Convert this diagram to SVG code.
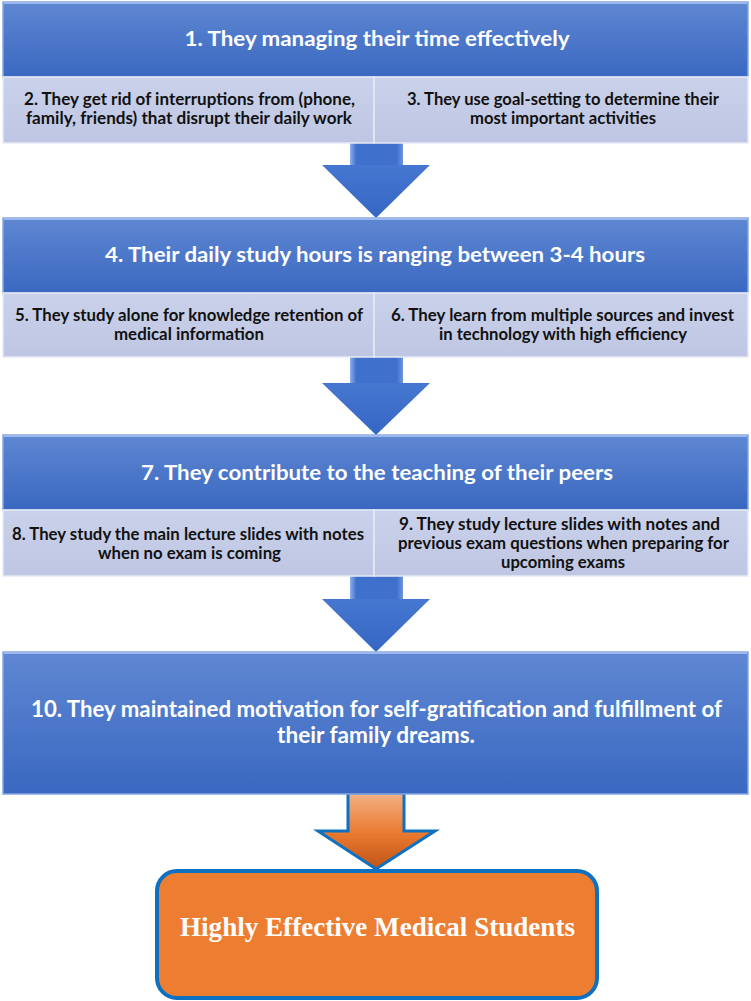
<svg xmlns="http://www.w3.org/2000/svg" width="751" height="1001" viewBox="0 0 751 1001">
<defs>
<linearGradient id="gMain" x1="0" y1="0" x2="0" y2="1">
<stop offset="0" stop-color="#5F87D2"/>
<stop offset="1" stop-color="#3A68C1"/>
</linearGradient>
<linearGradient id="gSub" x1="0" y1="0" x2="0" y2="1">
<stop offset="0" stop-color="#CAD1EA"/>
<stop offset="1" stop-color="#BEC6E3"/>
</linearGradient>
<linearGradient id="gArrow" x1="0" y1="0" x2="0" y2="1">
<stop offset="0" stop-color="#4677D0"/>
<stop offset="1" stop-color="#3466C4"/>
</linearGradient>
<linearGradient id="gShaft" x1="0" y1="0" x2="1" y2="0">
<stop offset="0" stop-color="#8DB0EE"/>
<stop offset="0.12" stop-color="#3F70CB"/>
<stop offset="0.88" stop-color="#3F70CB"/>
<stop offset="1" stop-color="#6F95DD"/>
</linearGradient>
<linearGradient id="gOrange" x1="0" y1="0" x2="0" y2="1">
<stop offset="0" stop-color="#F4B183"/>
<stop offset="0.55" stop-color="#E9782F"/>
<stop offset="1" stop-color="#BF5416"/>
</linearGradient>
</defs>
<style>
.main{fill:url(#gMain);stroke:#86A6E2;stroke-width:1.5}
.sub{fill:url(#gSub);stroke:#E6EAF5;stroke-width:1.5}
.hl{fill:none;stroke:#9CB8EC;stroke-width:2}
.tm{font-family:Lato,"Liberation Sans",sans-serif;font-weight:700;fill:#FFFFFF;text-anchor:middle}
.ts{font-family:Lato,"Liberation Sans",sans-serif;font-weight:700;fill:#111111;text-anchor:middle;font-size:16.5px}
.arrow{fill:url(#gArrow)}
.shaft{fill:url(#gShaft)}
.oarrow{fill:url(#gOrange);stroke:#0E70C0;stroke-width:3;stroke-linejoin:miter}
</style>

<g id="connectors">
<g id="arrow1">
<rect class="shaft" x="350" y="142" width="53" height="24"/>
<polygon class="arrow" points="322,165 430,165 376,218"/>
</g>
<g id="arrow2">
<rect class="shaft" x="350" y="356" width="53" height="28"/>
<polygon class="arrow" points="322,383 430,383 376,435"/>
</g>
<g id="arrow3">
<rect class="shaft" x="350" y="575" width="53" height="25"/>
<polygon class="arrow" points="322,599 430,599 376,652"/>
</g>
<g id="arrow4">
<polygon class="oarrow" points="348,793 404,793 404,831 435,831 376,869 318,831 348,831"/>
</g>
</g>

<g id="node1">
<rect class="main" x="3" y="2" width="745" height="75"/>
<line class="hl" x1="4" y1="3" x2="747" y2="3"/>
<text class="tm" x="377" y="46" font-size="21" textLength="385" lengthAdjust="spacingAndGlyphs">1. They managing their time effectively</text>
</g>
<g id="node2">
<rect class="sub" x="3" y="77" width="371" height="66"/>
<text class="ts" x="189.5" y="105" textLength="331" lengthAdjust="spacingAndGlyphs">2. They get rid of interruptions from (phone,</text>
<text class="ts" x="189" y="124" textLength="326" lengthAdjust="spacingAndGlyphs">family, friends) that disrupt their daily work</text>
</g>
<g id="node3">
<rect class="sub" x="374" y="77" width="374" height="66"/>
<text class="ts" x="563" y="105" textLength="312" lengthAdjust="spacingAndGlyphs">3. They use goal-setting to determine their</text>
<text class="ts" x="563" y="124" textLength="186" lengthAdjust="spacingAndGlyphs">most important activities</text>
</g>

<g id="node4">
<rect class="main" x="3" y="218" width="745" height="75"/>
<line class="hl" x1="4" y1="219" x2="747" y2="219"/>
<text class="tm" x="375" y="262" font-size="21" textLength="540" lengthAdjust="spacingAndGlyphs">4. Their daily study hours is ranging between 3-4 hours</text>
</g>
<g id="node5">
<rect class="sub" x="3" y="293" width="371" height="64"/>
<text class="ts" x="189" y="321" textLength="348" lengthAdjust="spacingAndGlyphs">5. They study alone for knowledge retention of</text>
<text class="ts" x="189" y="340" textLength="150" lengthAdjust="spacingAndGlyphs">medical information</text>
</g>
<g id="node6">
<rect class="sub" x="374" y="293" width="374" height="64"/>
<text class="ts" x="562.5" y="321" textLength="343" lengthAdjust="spacingAndGlyphs">6. They learn from multiple sources and invest</text>
<text class="ts" x="563" y="340" textLength="248" lengthAdjust="spacingAndGlyphs">in technology with high efficiency</text>
</g>

<g id="node7">
<rect class="main" x="3" y="435" width="745" height="75"/>
<line class="hl" x1="4" y1="436" x2="747" y2="436"/>
<text class="tm" x="377" y="480" font-size="21" textLength="472" lengthAdjust="spacingAndGlyphs">7. They contribute to the teaching of their peers</text>
</g>
<g id="node8">
<rect class="sub" x="3" y="510" width="371" height="66"/>
<text class="ts" x="188" y="540" textLength="352" lengthAdjust="spacingAndGlyphs">8. They study the main lecture slides with notes</text>
<text class="ts" x="189.5" y="559" textLength="183" lengthAdjust="spacingAndGlyphs">when no exam is coming</text>
</g>
<g id="node9">
<rect class="sub" x="374" y="510" width="374" height="66"/>
<text class="ts" x="559.5" y="530" textLength="321" lengthAdjust="spacingAndGlyphs">9. They study lecture slides with notes and</text>
<text class="ts" x="563.5" y="549" textLength="331" lengthAdjust="spacingAndGlyphs">previous exam questions when preparing for</text>
<text class="ts" x="563" y="568" textLength="124" lengthAdjust="spacingAndGlyphs">upcoming exams</text>
</g>

<g id="node10">
<rect class="main" x="3" y="652" width="745" height="142"/>
<line class="hl" x1="4" y1="653" x2="747" y2="653"/>
<text class="tm" x="376.5" y="717" font-size="22" textLength="691" lengthAdjust="spacingAndGlyphs">10. They maintained motivation for self-gratification and fulfillment of</text>
<text class="tm" x="376" y="743" font-size="22" textLength="198" lengthAdjust="spacingAndGlyphs">their family dreams.</text>
</g>

<g id="node11">
<rect x="157" y="871" width="440" height="127" rx="20" ry="20" fill="#ED7D31" stroke="#0E70C0" stroke-width="4"/>
<text x="377.5" y="936" font-family="'Liberation Serif',serif" font-weight="700" font-size="28" fill="#FFFFFF" text-anchor="middle" textLength="395" lengthAdjust="spacingAndGlyphs">Highly Effective Medical Students</text>
</g>
</svg>
